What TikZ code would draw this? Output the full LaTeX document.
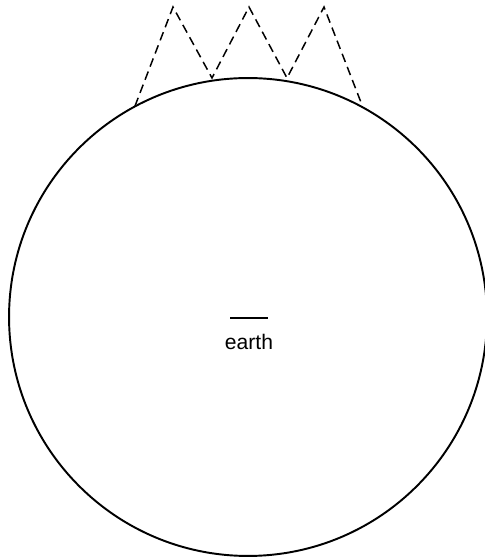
\documentclass[tikz,border=0pt]{standalone}
\usepackage{fontspec}
\setmainfont{Liberation Sans}
\begin{document}
\begin{tikzpicture}[x=0.02cm, y=0.02cm]
\useasboundingbox (0,0) rectangle (484,560);
\draw[line width=1.1pt] (248,243) circle (4.78cm);
\draw[line width=1pt] (230,242) -- (268,242);
\node[font=\fontsize{12}{14}\selectfont] (earth) at (249,218) {earth};
\coordinate (z0) at (135,454);
\coordinate (z1) at (173,553);
\coordinate (z2) at (212,482);
\coordinate (z3) at (249,553);
\coordinate (z4) at (287,482);
\coordinate (z5) at (324,553);
\coordinate (z6) at (362,455);
\draw[line width=0.85pt, dash pattern=on 5pt off 3pt] (z0) -- (z1) -- (z2) -- (z3) -- (z4) -- (z5) -- (z6);
\end{tikzpicture}
\end{document}
